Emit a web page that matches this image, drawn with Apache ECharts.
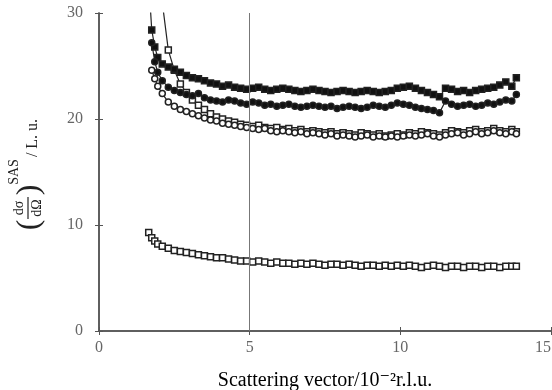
<!DOCTYPE html>
<html><head><meta charset="utf-8">
<script src="https://cdn.jsdelivr.net/npm/echarts@6/dist/echarts.min.js"></script>
<style>html,body{margin:0;padding:0;background:#fff}#c{width:552px;height:390px}</style>
</head><body><div id="c"></div>
<script>
var xs = [1.65,1.75,1.85,1.95,2.1,2.3,2.5,2.7,2.9,3.1,3.3,3.5,3.7,3.9,4.1,4.3,4.5,4.7,4.9,5.1,5.3,5.5,5.7,5.9,6.1,6.3,6.5,6.7,6.9,7.1,7.3,7.5,7.7,7.9,8.1,8.3,8.5,8.7,8.9,9.1,9.3,9.5,9.7,9.9,10.1,10.3,10.5,10.7,10.9,11.1,11.3,11.5,11.7,11.9,12.1,12.3,12.5,12.7,12.9,13.1,13.3,13.5,13.7,13.85];
var seriesA = [33,28.4,26.8,25.8,25.2,24.9,24.7,24.4,24.1,23.9,23.8,23.6,23.4,23.3,23.1,23.2,23.0,22.9,22.8,22.9,23.0,22.8,22.7,22.8,22.9,22.8,22.7,22.6,22.7,22.8,22.7,22.6,22.5,22.6,22.7,22.6,22.5,22.6,22.7,22.6,22.5,22.6,22.7,22.9,23.0,23.1,22.9,22.7,22.5,22.3,22.1,22.9,22.8,22.6,22.7,22.5,22.7,22.8,22.9,23.0,23.2,23.5,23.1,23.9];
var seriesB = [null,27.2,25.4,24.4,23.6,23.0,22.7,22.5,22.3,22.2,22.4,22.0,21.8,21.7,21.6,21.8,21.7,21.5,21.4,21.6,21.5,21.3,21.4,21.2,21.3,21.4,21.2,21.1,21.2,21.3,21.2,21.1,21.2,21.0,21.1,21.2,21.1,21.0,21.1,21.3,21.2,21.1,21.3,21.5,21.4,21.3,21.1,21.0,20.9,20.8,20.6,21.7,21.4,21.2,21.3,21.4,21.2,21.3,21.5,21.4,21.6,21.8,21.7,22.3];
var seriesC = [null,null,null,null,31,26.5,24.6,23.3,22.5,21.8,21.3,20.9,20.5,20.2,20.0,19.8,19.7,19.5,19.4,19.3,19.4,19.2,19.1,19.2,19.0,19.1,18.9,19.0,18.8,18.9,18.8,18.7,18.8,18.6,18.7,18.6,18.5,18.7,18.6,18.5,18.6,18.4,18.5,18.6,18.5,18.7,18.6,18.8,18.7,18.6,18.5,18.7,18.9,18.8,18.7,18.9,19.0,18.8,18.9,19.1,18.9,18.8,19.0,18.8];
var seriesD = [null,24.6,23.8,23.1,22.4,21.6,21.2,20.9,20.7,20.5,20.3,20.1,19.9,19.8,19.6,19.5,19.4,19.3,19.2,19.1,19.0,19.1,18.9,18.8,18.9,18.8,18.7,18.8,18.6,18.7,18.6,18.5,18.6,18.4,18.5,18.4,18.3,18.4,18.5,18.3,18.4,18.3,18.4,18.3,18.4,18.5,18.4,18.5,18.6,18.4,18.3,18.5,18.6,18.7,18.5,18.6,18.8,18.6,18.7,18.9,18.7,18.6,18.8,18.6];
var seriesE = [9.3,8.8,8.5,8.2,8.0,7.8,7.6,7.5,7.4,7.3,7.2,7.1,7.0,6.9,6.9,6.8,6.7,6.6,6.6,6.5,6.6,6.5,6.4,6.5,6.4,6.4,6.3,6.4,6.3,6.4,6.3,6.2,6.3,6.3,6.2,6.3,6.2,6.1,6.2,6.2,6.1,6.2,6.1,6.2,6.1,6.2,6.1,6.0,6.1,6.2,6.1,6.0,6.1,6.1,6.0,6.1,6.1,6.0,6.1,6.1,6.0,6.1,6.1,6.1];
var xTicks = [0,5,10,15];
var yTicks = [0,10,20,30];

function pairs(ys){ var out=[]; for(var i=0;i<xs.length;i++){ if(ys[i]!==null) out.push([xs[i], ys[i]]); } return out; }

var chart = echarts.init(document.getElementById('c'));
var serif = '"Liberation Serif","DejaVu Serif",serif';
var axisCol = '#555';
function mk(name, ys, symbol, filled){
  return {
    name:name, type:'line', data:pairs(ys), symbol:symbol, symbolSize:6,
    lineStyle:{color:'#222', width:1.2},
    itemStyle:{color: filled ? '#111' : '#fff', borderColor:'#222', borderWidth:1.5},
    clip:true, silent:true, animation:false, z: filled?4:3
  };
}
var series = [
  mk('A', seriesA, 'rect', true),
  mk('B', seriesB, 'circle', true),
  mk('C', seriesC, 'rect', false),
  mk('D', seriesD, 'circle', false),
  mk('E', seriesE, 'rect', false)
];
series[0].markLine = {silent:true, symbol:'none', label:{show:false}, lineStyle:{color:'#777', width:1, type:'solid'}, data:[{xAxis:5}]};

chart.setOption({
  animation:false,
  backgroundColor:'#fff',
  grid:{left:99, right:1, top:13, bottom:59, containLabel:false, outerBoundsMode:'none'},
  xAxis:[{
    type:'value', min:0, max:15, interval:5, position:'bottom',
    axisLine:{lineStyle:{color:axisCol, width:1.5}},
    axisTick:{inside:true, length:4, lineStyle:{color:axisCol}},
    splitLine:{show:false},
    axisLabel:{color:'#666', fontFamily:serif, fontSize:16, margin:9, alignMaxLabel:'right', formatter:function(v){return xTicks.indexOf(v)>=0? String(v):'';}},
    name:'Scattering vector/10\u207B\u00B2r.l.u.', nameLocation:'middle', nameGap:40,
    nameTextStyle:{color:'#000', fontFamily:serif, fontSize:20, verticalAlign:'top'}
  },{
    type:'value', min:0, max:15, interval:5, position:'top',
    axisLine:{lineStyle:{color:axisCol, width:1.5}},
    axisTick:{inside:true, length:4, lineStyle:{color:axisCol}},
    axisLabel:{show:false}, splitLine:{show:false}
  }],
  yAxis:[{
    type:'value', min:0, max:30, interval:10, position:'left',
    axisLine:{show:true, lineStyle:{color:axisCol, width:1.5}},
    axisTick:{show:true, inside:true, length:4, lineStyle:{color:axisCol}},
    splitLine:{show:false},
    axisLabel:{color:'#666', fontFamily:serif, fontSize:16, margin:16, formatter:function(v){return yTicks.indexOf(v)>=0? String(v):'';}}
  },{
    type:'value', min:0, max:30, interval:10, position:'right',
    axisLine:{show:true, lineStyle:{color:axisCol, width:1.5}},
    axisTick:{show:true, inside:true, length:4, lineStyle:{color:axisCol}},
    axisLabel:{show:false}, splitLine:{show:false}
  }],
  graphic:[{
    type:'group', x:30, y:175, rotation:Math.PI/2,
    children:[
      {type:'text', x:-50, y:0, style:{text:'(', font:'32px '+serif, fill:'#222', textAlign:'center', textVerticalAlign:'middle'}},
      {type:'text', x:-33, y:-11, style:{text:'d\u03C3', font:'14px '+serif, fill:'#222', textAlign:'center', textVerticalAlign:'middle'}},
      {type:'line', shape:{x1:-44, y1:-2, x2:-22, y2:-2}, style:{stroke:'#222', lineWidth:1.2}},
      {type:'text', x:-33, y:7, style:{text:'d\u03A9', font:'14px '+serif, fill:'#222', textAlign:'center', textVerticalAlign:'middle'}},
      {type:'text', x:-15, y:0, style:{text:')', font:'32px '+serif, fill:'#222', textAlign:'center', textVerticalAlign:'middle'}},
      {type:'text', x:3, y:-16, style:{text:'SAS', font:'14px '+serif, fill:'#222', textAlign:'center', textVerticalAlign:'middle'}},
      {type:'text', x:37, y:3, style:{text:'/ L. u.', font:'16px '+serif, fill:'#222', textAlign:'center', textVerticalAlign:'middle'}}
    ]
  }],
  series:series
});
</script></body></html>
